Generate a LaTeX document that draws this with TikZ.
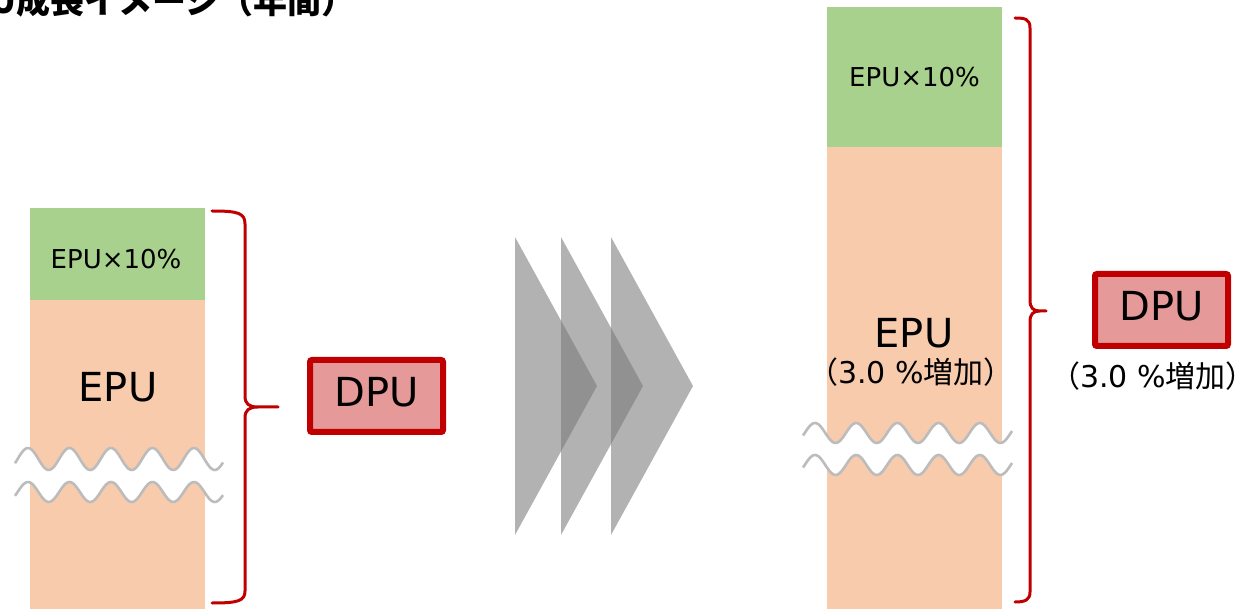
\documentclass[tikz,border=0pt]{standalone}
\usepackage{fontspec}
\setmainfont{DejaVu Sans}
\newfontfamily\jp{Noto Sans CJK JP}
\definecolor{epugreen}{RGB}{169,209,142}
\definecolor{epuorange}{RGB}{248,203,173}
\definecolor{dpured}{RGB}{192,0,0}
\definecolor{dpufill}{RGB}{230,153,153}
\definecolor{wavegray}{RGB}{188,188,188}
\definecolor{chevgray}{RGB}{120,120,120}
\begin{document}
\begin{tikzpicture}[x=1pt,y=-1pt,
  brace/.style={draw=dpured, line width=3pt, line cap=round, line join=round},
  dpubox/.style={draw=dpured, fill=dpufill, line width=6pt, rounded corners=2pt,
    minimum width=133pt, minimum height=72pt, inner sep=0pt},
  wave/.style={draw=wavegray, line width=2.6pt},
  chev/.style={fill=chevgray, fill opacity=0.57},
  big/.style={inner sep=0pt, font=\fontsize{40}{44}\selectfont},
  small/.style={inner sep=0pt, font=\fontsize{26}{30}\selectfont},
  note/.style={inner sep=0pt, font=\fontsize{30}{32}\selectfont}]
\useasboundingbox (0,0) rectangle (1256,609);

% title (cropped)
\node[anchor=base west, inner sep=0pt, font=\jp\bfseries\fontsize{34}{34}\selectfont] (title) at (16,14) {\llap{DPU}成長イメージ（年間）};

% left column
\fill[epugreen] (30,208) rectangle (205,300);
\fill[epuorange] (30,300) rectangle (205,609);
\fill[white] plot[domain=15:223, samples=120, smooth] (\x,{459-11*cos((\x-28)/41.5*360)})
  -- plot[domain=223:15, samples=120, smooth] (\x,{492-10*cos((\x-28)/41.5*360)}) -- cycle;
\draw[wave] plot[domain=15:223, samples=120, smooth] (\x,{459-11*cos((\x-28)/41.5*360)});
\draw[wave] plot[domain=15:223, samples=120, smooth] (\x,{492-10*cos((\x-28)/41.5*360)});
\node[small] (epu10a) at (116,259) {EPU×10\%};
\node[big] (epua) at (118,387) {EPU};

% left brace
\draw[brace] (212,211) .. controls (238,211) and (245,213) .. (245,224) -- (245,396)
  .. controls (245,404) and (249,407) .. (258,407) -- (278,407) -- (258,407)
  .. controls (249,407) and (245,410) .. (245,418) -- (245,591)
  .. controls (245,601) and (238,603) .. (212,603);

% left DPU
\node[dpubox] (dpua) at (376.5,396) {};
\node[big] (dpuatext) at ([yshift=3.5]dpua.center) {DPU};

% chevrons
\fill[chev] (515,237) -- (597,386) -- (515,535) -- cycle;
\fill[chev] (561,237) -- (643,386) -- (561,535) -- cycle;
\fill[chev] (611,237) -- (693,386) -- (611,535) -- cycle;

% right column
\fill[epugreen] (827,7) rectangle (1002,147);
\fill[epuorange] (827,147) rectangle (1002,609);
\fill[white] plot[domain=803:1012, samples=120, smooth] (\x,{433-10*cos((\x-815)/41.2*360)})
  -- plot[domain=1012:803, samples=120, smooth] (\x,{465-10*cos((\x-815)/41.2*360)}) -- cycle;
\draw[wave] plot[domain=803:1012, samples=120, smooth] (\x,{433-10*cos((\x-815)/41.2*360)});
\draw[wave] plot[domain=803:1012, samples=120, smooth] (\x,{465-10*cos((\x-815)/41.2*360)});
\node[small] (epu10b) at (914.5,77) {EPU×10\%};
\node[big] (epub) at (914,333) {EPU};
\node[note] (epubnote) at (911,372) {{\jp （}3.0 \%{\jp 増加）}};

% right brace
\draw[brace] (1015,18) .. controls (1025,18) and (1030,19) .. (1030,28) -- (1030,300)
  .. controls (1030,308) and (1033,311) .. (1040,311) -- (1046,311) -- (1040,311)
  .. controls (1033,311) and (1030,314) .. (1030,322) -- (1030,592)
  .. controls (1030,600) and (1025,602) .. (1015,602);

% right DPU
\node[dpubox] (dpub) at (1161.5,310) {};
\node[big] (dpubtext) at ([yshift=3.5]dpub.center) {DPU};
\node[note] (dpubnote) at (1153,376) {{\jp （}3.0 \%{\jp 増加）}};
\end{tikzpicture}
\end{document}
